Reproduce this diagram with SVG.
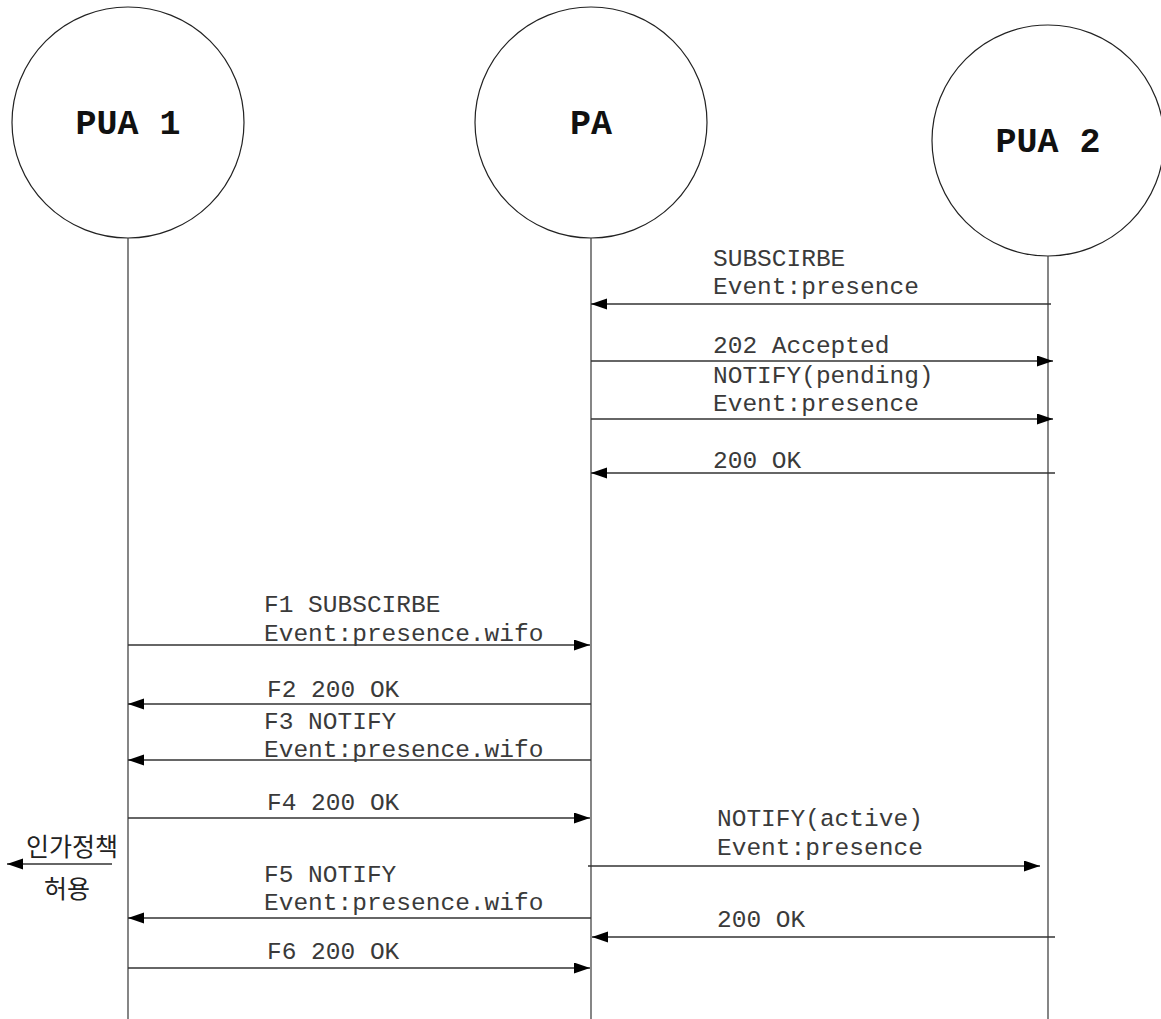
<svg xmlns="http://www.w3.org/2000/svg" width="1161" height="1019" viewBox="0 0 1161 1019">
  <style>
    .node { fill: #ffffff; stroke: #222; stroke-width: 1.2; }
    .title { font-family: "Liberation Mono", "Courier New", monospace; font-weight: bold; font-size: 35px; fill: #111; text-anchor: middle; }
    .life { stroke: #444; stroke-width: 1.3; fill: none; }
    .msg { stroke: #333; stroke-width: 1.3; fill: none; marker-end: url(#head); }
    .lbl { font-family: "Liberation Mono", "Courier New", monospace; font-size: 24.5px; fill: #3a3a3a; }
    .kr { font-family: "Noto Sans CJK KR", "Noto Sans", sans-serif; font-size: 25px; fill: #222; }
  </style>
  <defs>
    <marker id="head" markerUnits="userSpaceOnUse" markerWidth="17" markerHeight="12" refX="16" refY="5.5" orient="auto">
      <path d="M0,0 L16,5.5 L0,11 z" fill="#000"/>
    </marker>
  </defs>
  <rect width="1161" height="1019" fill="#ffffff"/>

  <!-- participants -->
  <g id="pua1">
    <ellipse class="node" cx="128" cy="122.5" rx="116" ry="115.5"/>
    <text class="title" x="128" y="134">PUA 1</text>
  </g>
  <g id="pa">
    <ellipse class="node" cx="591" cy="122.5" rx="116" ry="115.5"/>
    <text class="title" x="591" y="134">PA</text>
  </g>
  <g id="pua2">
    <ellipse class="node" cx="1048" cy="140.5" rx="116" ry="115.5"/>
    <text class="title" x="1048" y="152">PUA 2</text>
  </g>

  <!-- lifelines -->
  <g id="lifelines">
    <line class="life" x1="128" y1="238" x2="128" y2="1019"/>
    <line class="life" x1="591" y1="238" x2="591" y2="1019"/>
    <line class="life" x1="1048" y1="256" x2="1048" y2="1019"/>
  </g>

  <!-- messages -->
  <g id="connectors">
    <line class="msg" x1="1051" y1="304" x2="591" y2="304"/>
    <line class="msg" x1="591" y1="361" x2="1053" y2="361"/>
    <line class="msg" x1="591" y1="419" x2="1053" y2="419"/>
    <line class="msg" x1="1055" y1="473" x2="591" y2="473"/>
    <line class="msg" x1="128" y1="645" x2="590" y2="645"/>
    <line class="msg" x1="591" y1="704" x2="128" y2="704"/>
    <line class="msg" x1="591" y1="760" x2="128" y2="760"/>
    <line class="msg" x1="128" y1="818" x2="590" y2="818"/>
    <line class="msg" x1="588" y1="866" x2="1040" y2="866"/>
    <line class="msg" x1="591" y1="918" x2="128" y2="918"/>
    <line class="msg" x1="1055" y1="937" x2="592" y2="937"/>
    <line class="msg" x1="128" y1="968" x2="590" y2="968"/>
    <line class="msg" x1="112" y1="864" x2="7" y2="864"/>
  </g>

  <!-- message labels -->
  <g id="labels">
    <text class="lbl" x="713" y="266">SUBSCIRBE</text>
    <text class="lbl" x="713" y="294">Event:presence</text>
    <text class="lbl" x="713" y="353">202 Accepted</text>
    <text class="lbl" x="713" y="383">NOTIFY(pending)</text>
    <text class="lbl" x="713" y="411">Event:presence</text>
    <text class="lbl" x="713" y="468">200 OK</text>
    <text class="lbl" x="264" y="612">F1 SUBSCIRBE</text>
    <text class="lbl" x="264" y="641">Event:presence.wifo</text>
    <text class="lbl" x="267" y="697">F2 200 OK</text>
    <text class="lbl" x="264" y="729">F3 NOTIFY</text>
    <text class="lbl" x="264" y="757">Event:presence.wifo</text>
    <text class="lbl" x="267" y="810">F4 200 OK</text>
    <text class="lbl" x="717" y="826">NOTIFY(active)</text>
    <text class="lbl" x="717" y="855">Event:presence</text>
    <text class="lbl" x="264" y="882">F5 NOTIFY</text>
    <text class="lbl" x="264" y="910">Event:presence.wifo</text>
    <text class="lbl" x="717" y="927">200 OK</text>
    <text class="lbl" x="267" y="959">F6 200 OK</text>
    <text class="kr" x="26" y="856">인가정책</text>
    <text class="kr" x="67" y="898" text-anchor="middle">허용</text>
  </g>
</svg>
